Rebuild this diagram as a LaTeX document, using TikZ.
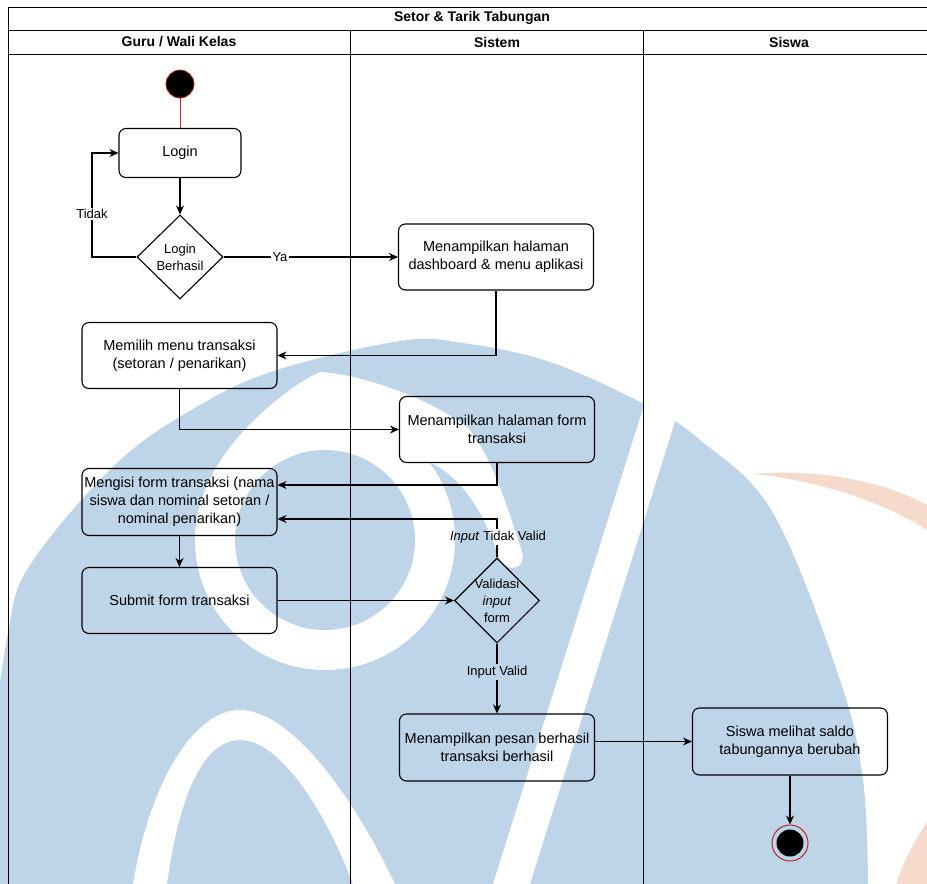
\documentclass[tikz,border=0pt]{standalone}
\usepackage{fontspec}
\setmainfont{Liberation Sans}
\usetikzlibrary{arrows.meta,shapes.geometric,calc}
\definecolor{wmblue}{RGB}{190,212,232}
\definecolor{wmpeach}{RGB}{246,218,203}
\definecolor{ringred}{RGB}{184,40,40}
\begin{document}
\begin{tikzpicture}[x=1pt,y=-1pt,
  ln/.style={line width=1.1pt, draw=black},
  arr/.style={ln, -{Stealth[length=9pt,width=8pt]}},
  actbox/.style={draw, line width=1.1pt, rounded corners=7pt, align=center, inner sep=0pt, font=\fontsize{14.5}{18}\selectfont, minimum width=195pt, minimum height=66pt},
  dec/.style={diamond, draw, line width=1.1pt, inner sep=0pt, minimum width=86pt, minimum height=84pt},
  dectxt/.style={align=center, inner sep=0pt, font=\fontsize{13}{17}\selectfont},
  lbl/.style={inner sep=1.5pt, font=\fontsize{13}{15}\selectfont},
  hdr/.style={font=\bfseries\fontsize{14}{16}\selectfont, inner sep=0pt},
  frame/.style={line width=1pt, draw=black}
]
\useasboundingbox (0,0) rectangle (927,884);

% ---------- watermark (background) ----------
\begin{scope}
\clip (0,0) rectangle (927,884);
\fill[wmblue] plot[smooth, tension=0.6] coordinates {(-10,760) (8,633) (30,565) (117,463) (200,405) (277,370) (400,341) (463,343) (550,362) (646,405) (700,440) (773,513) (840,680) (863,780) (868,884)} -- (868,920) -- (-40,920) -- cycle;
% white ring with tip and tail
\fill[white] (325,540) circle (130);
\fill[white] (320,372) .. controls (360,374) and (430,398) .. (468,428)
  .. controls (492,455) and (510,515) .. (522,552)
  .. controls (527,568) and (508,574) .. (500,560)
  .. controls (490,530) and (470,480) .. (429,462)
  -- (325,540) -- (212,475)
  .. controls (235,430) and (290,385) .. (320,372) -- cycle;
\fill[wmblue] (325,540) circle (90);
% bottom arch
\fill[white] (133,884) .. controls (150,780) and (195,710) .. (240,710)
  .. controls (285,710) and (345,780) .. (395,884) -- (353,884)
  .. controls (325,810) and (280,740) .. (240,740)
  .. controls (205,740) and (180,790) .. (167,884) -- cycle;
% diagonal stripe
\fill[white] (652,380) -- (688,380) -- (530,884) -- (493,884) -- cycle;
% peach swooshes
\fill[wmpeach] (753,474) .. controls (820,468) and (885,482) .. (927,505) -- (927,530)
  .. controls (880,500) and (815,480) .. (753,474) -- cycle;
\fill[wmpeach] (896,884) .. controls (905,858) and (915,840) .. (927,822) -- (927,884) -- cycle;
\end{scope}

% ---------- swimlane frame ----------
\draw[frame] (8,7.5) -- (927,7.5);
\draw[frame] (8,30.5) -- (927,30.5);
\draw[frame] (8,54.5) -- (927,54.5);
\draw[frame] (8,7.5) -- (8,884);
\draw[frame] (350,30.5) -- (350,884);
\draw[frame] (643,30.5) -- (643,884);
\node[hdr] (title) at (472,18) {Setor \& Tarik Tabungan};
\node[hdr] (lane1) at (179,42) {Guru / Wali Kelas};
\node[hdr] (lane2) at (497,42) {Sistem};
\node[hdr] (lane3) at (789,42) {Siswa};

% ---------- nodes ----------
\node[circle, fill=black, draw=ringred, line width=0.8pt, minimum size=28pt, inner sep=0pt] (start) at (180,84) {};
\node[actbox, minimum width=122pt, minimum height=49pt] (login) at (180,153) {Login};
\node[dec] (d1) at (180,257) {};
\node[dectxt] (d1t) at (d1) {Login\\Berhasil};
\node[actbox] (dash) at (496,257) {Menampilkan halaman\\dashboard \& menu aplikasi};
\node[actbox] (memilih) at (179.5,355.5) {Memilih menu transaksi\\(setoran / penarikan)};
\node[actbox] (form) at (497,429.5) {Menampilkan halaman form\\transaksi};
\node[actbox, minimum height=67pt] (mengisi) at (179.5,502) {Mengisi form transaksi (nama\\siswa dan nominal setoran /\\nominal penarikan)};
\node[actbox] (submit) at (179.5,600.5) {Submit form transaksi};
\node[dec, minimum width=85pt, minimum height=85pt] (d2) at (497,600.5) {};
\node[dectxt] (d2t) at (d2) {Validasi\\\textit{input}\\form};
\node[actbox, minimum height=67pt] (pesan) at (497,747.5) {Menampilkan pesan berhasil\\transaksi berhasil};
\node[actbox, minimum height=67pt] (siswa) at (790,741.5) {Siswa melihat saldo\\tabungannya berubah};
\node[circle, draw=ringred, line width=1pt, minimum size=36pt, inner sep=0pt] (stop) at (790,843) {};
\fill[black] (stop.center) circle (13.5pt);

% ---------- labels ----------
\node[lbl] (tidak) at (92,214) {Tidak};
\node[lbl] (ya) at (280,257) {Ya};
\node[lbl] (itv) at (498,537) {\textit{Input} Tidak Valid};
\node[lbl] (iv) at (497,672) {Input Valid};

% ---------- connectors ----------
\draw[ln, draw=ringred, line width=1pt] (start) -- (login);
\draw[arr] (login) -- (d1);
\draw[ln] (d1.west) -| (tidak.south);
\draw[arr] (tidak.north) |- (login.west);
\draw[ln] (d1.east) -- (ya.west);
\draw[arr] (ya.east) -- (dash.west);
\draw[arr] (dash.south) |- (memilih.east);
\draw[arr] (memilih.south) |- (form.west);
\draw[arr] (form.south) |- ($(mengisi.east)+(0,-17)$);
\draw[ln] (d2.north) -- (itv.south -| d2.north);
\draw[arr] (itv.north -| d2.north) |- ($(mengisi.east)+(0,17)$);
\draw[arr] (mengisi) -- (submit);
\draw[arr] (submit) -- (d2);
\draw[ln] (d2.south) -- (iv.north -| d2.south);
\draw[arr] (iv.south -| d2.south) -- (pesan.north);
\draw[arr] (pesan.east |- siswa.west) -- (siswa.west);
\draw[arr] (siswa) -- (stop);
\end{tikzpicture}
\end{document}
